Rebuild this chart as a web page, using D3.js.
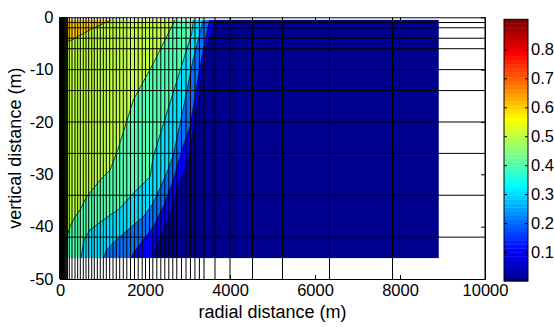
<!DOCTYPE html>
<html>
<head>
<meta charset="utf-8">
<script src="https://cdn.jsdelivr.net/npm/d3@7"></script>
<style>
  body { margin: 0; background: #fff; }
  svg { display: block; }
  text { font-family: "Liberation Sans", Arial, Helvetica, sans-serif; fill: #000; }
</style>
</head>
<body>
<svg id="chart" width="554" height="327"></svg>
<script>
// ---- axis ticks ----
const xTicks = [0, 2000, 4000, 6000, 8000, 10000];
const yTicks = [0, -10, -20, -30, -40, -50];
const cbTicks = [0.1, 0.2, 0.3, 0.4, 0.5, 0.6, 0.7, 0.8];

// ---- colour limits of the field ----
const colorRange = [0, 0.904];

// ---- model grid: column edges (m) and layer edges (m) ----
const rEdges = [0, 1, 2, 3, 5, 7, 10, 14, 19, 25, 32, 40, 49, 59, 70, 82, 95, 109, 124, 140, 157, 175,
  219, 282, 353, 416, 478, 548, 612, 675, 746, 807, 878, 948, 1019, 1089, 1169, 1247, 1325, 1405,
  1489, 1572, 1659, 1753, 1840, 1934, 2012, 2106, 2184, 2278, 2372, 2466, 2560, 2654, 2748, 2859,
  2965, 3070, 3175, 3280, 3388, 3647, 4000, 4530, 5235, 6341, 7824, 10000];
const zEdges = [0, -1, -2, -4, -6, -10, -14, -20, -26, -34, -42, -50];

// extent of the contoured field (first/last node centres)
const fieldR = [0, 8912];
const fieldZ = [-0.5, -46];

// ---- contour levels and traced contour lines [r (m), z (m)] ----
const levels = [0, 0.1, 0.2, 0.3, 0.4, 0.5, 0.6];
const contour01 = [[3647, -0.5], [3610, -2.0], [3569, -3.1], [3430, -6.0], [3340, -10], [3294, -13.9],
  [3216, -17.7], [3099, -23.4], [3019, -27.3], [2824, -31.7], [2588, -38.1], [2353, -42.5], [2158, -46]];
const contour02 = [[3529, -0.5], [3482, -1.85], [3294, -9.4], [3059, -20.9], [2864, -25.4], [2666, -31.1],
  [2431, -36.2], [2195, -40.0], [1960, -42.5], [1725, -45.1], [1671, -46]];
const contour03 = [[3372, -0.5], [3294, -3.0], [3129, -8.2], [2894, -17.7], [2666, -26.3], [2511, -29.8],
  [2195, -35.5], [1960, -38.1], [1725, -39.7], [1334, -42.5], [1099, -44.4], [1019, -46]];
const contour04 = [[3136, -0.5], [3099, -3.1], [2647, -14.8], [2195, -26.6], [2118, -30.5], [1725, -33.6],
  [1412, -36.5], [1176, -37.8], [706, -40.6], [565, -42.5], [494, -46]];
const contour05 = [[2706, -0.5], [2195, -8.8], [1725, -15.8], [1372, -25.0], [1176, -29.2], [941, -31.1],
  [628, -34.3], [471, -36.8], [353, -38.1], [235, -40.0], [141, -42.5], [94, -46]];
const contour06 = [[1200, -0.5], [706, -2.4], [259, -4.4], [47, -4.8], [0, -4.9]];
const contourLines = [contour01, contour02, contour03, contour04, contour05, contour06];

// ---- jet colormap (64 entries) ----
function jetRow(row) { // row: 1..64
  let r, g, b;
  if (row < 25) r = 0; else if (row <= 40) r = (row - 24) / 16; else if (row <= 56) r = 1; else r = 1 - (row - 56) / 16;
  if (row < 9) g = 0; else if (row <= 24) g = (row - 8) / 16; else if (row <= 40) g = 1; else if (row <= 55) g = (56 - row) / 16; else g = 0;
  if (row <= 8) b = (row + 8) / 16; else if (row <= 24) b = 1; else if (row <= 39) b = (40 - row) / 16; else b = 0;
  return d3.rgb(Math.round(r * 255), Math.round(g * 255), Math.round(b * 255)).formatHex();
}
const jet = d3.range(1, 65).map(jetRow);
function levelColor(v) {
  const k = Math.min(63, Math.max(0, Math.floor((v - colorRange[0]) / (colorRange[1] - colorRange[0]) * 64)));
  return jet[k];
}

// ---- layout ----
const svg = d3.select("#chart");
const x = d3.scaleLinear().domain([0, 10000]).range([60, 485]);
const y = d3.scaleLinear().domain([-50, 0]).range([279, 17.3]);
const cb = d3.scaleLinear().domain(colorRange).range([281, 19.3]);
const cbX = [504, 528];

const line = d3.line().x(d => x(d[0])).y(d => y(d[1]));

// filled contour bands, painted from lowest level upward
const field = svg.append("g");
field.append("rect")
  .attr("x", x(fieldR[0])).attr("y", y(fieldZ[0]))
  .attr("width", x(fieldR[1]) - x(fieldR[0]))
  .attr("height", y(fieldZ[1]) - y(fieldZ[0]))
  .attr("fill", levelColor(levels[0]));

contourLines.forEach((pts, i) => {
  const last = pts[pts.length - 1];
  const poly = [[fieldR[0], fieldZ[0]], ...pts, [fieldR[0], last[1]]];
  field.append("path")
    .attr("d", line(poly) + "Z")
    .attr("fill", levelColor(levels[i + 1]));
});

// contour lines
contourLines.forEach(pts => {
  field.append("path")
    .attr("d", line(pts))
    .attr("fill", "none")
    .attr("stroke", "#000")
    .attr("stroke-width", 0.7);
});

// model grid overlay
const mesh = svg.append("g").attr("stroke", "#000").attr("stroke-width", 1);
mesh.selectAll("line.v").data(rEdges).join("line").attr("class", "v")
  .attr("x1", d => x(d)).attr("x2", d => x(d))
  .attr("y1", y(0)).attr("y2", y(-50));
mesh.selectAll("line.h").data(zEdges.slice(1, -1)).join("line").attr("class", "h")
  .attr("x1", x(0)).attr("x2", x(10000))
  .attr("y1", d => y(d)).attr("y2", d => y(d));

// axes (box with inward ticks)
const fmt = d => String(d);
function styleAxis(g) {
  g.selectAll("path, line").attr("stroke", "#000");
  g.selectAll("text").attr("font-size", 16.5).attr("fill", "#000");
}
svg.append("g").attr("transform", `translate(0,${y(-50)})`)
  .call(d3.axisBottom(x).tickValues(xTicks).tickFormat(fmt).tickSize(-4).tickSizeOuter(0).tickPadding(5))
  .call(styleAxis);
svg.append("g").attr("transform", `translate(0,${y(0)})`)
  .call(d3.axisTop(x).tickValues(xTicks).tickFormat("").tickSize(-4).tickSizeOuter(0))
  .call(styleAxis);
svg.append("g").attr("transform", `translate(${x(0)},0)`)
  .call(d3.axisLeft(y).tickValues(yTicks).tickFormat(fmt).tickSize(-4).tickSizeOuter(0).tickPadding(6.5))
  .call(styleAxis);
svg.append("g").attr("transform", `translate(${x(10000)},0)`)
  .call(d3.axisRight(y).tickValues(yTicks).tickFormat("").tickSize(-4).tickSizeOuter(0))
  .call(styleAxis);

// axis titles
svg.append("text").attr("x", (x(0) + x(10000)) / 2).attr("y", 318)
  .attr("text-anchor", "middle").attr("font-size", 18).text("radial distance (m)");
svg.append("text").attr("transform", `translate(20.5,${(y(0) + y(-50)) / 2}) rotate(-90)`)
  .attr("text-anchor", "middle").attr("font-size", 18).text("vertical distance (m)");

// colorbar
const cbG = svg.append("g");
cbG.selectAll("rect.c").data(jet).join("rect").attr("class", "c")
  .attr("x", cbX[0]).attr("width", cbX[1] - cbX[0])
  .attr("y", (d, i) => cb(colorRange[0] + (i + 1) / 64 * (colorRange[1] - colorRange[0])))
  .attr("height", (d, i) => cb(colorRange[0] + i / 64 * (colorRange[1] - colorRange[0])) -
                            cb(colorRange[0] + (i + 1) / 64 * (colorRange[1] - colorRange[0])) + 0.4)
  .attr("fill", d => d);
cbG.append("g").attr("transform", `translate(${cbX[1]},0)`)
  .call(d3.axisRight(cb).tickValues(cbTicks).tickFormat(d3.format(".1f")).tickSize(-3).tickSizeOuter(0).tickPadding(3))
  .call(styleAxis)
  .call(g => g.select(".domain").remove());
cbG.append("g").attr("transform", `translate(${cbX[0]},0)`)
  .call(d3.axisLeft(cb).tickValues(cbTicks).tickFormat("").tickSize(-3).tickSizeOuter(0))
  .call(styleAxis)
  .call(g => g.select(".domain").remove());
cbG.append("rect").attr("x", cbX[0]).attr("y", cb(colorRange[1]))
  .attr("width", cbX[1] - cbX[0]).attr("height", cb(colorRange[0]) - cb(colorRange[1]))
  .attr("fill", "none").attr("stroke", "#000").attr("stroke-width", 1);
</script>
</body>
</html>
